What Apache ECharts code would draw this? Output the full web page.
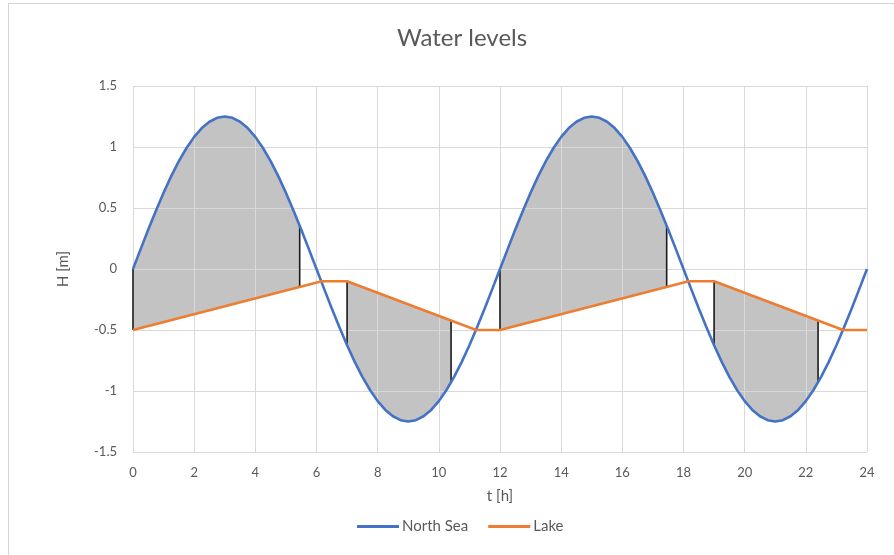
<!DOCTYPE html>
<html>
<head>
<meta charset="utf-8">
<script src="https://cdn.jsdelivr.net/npm/echarts@6/dist/echarts.min.js"></script>
<style>
html,body{margin:0;padding:0;background:#fff;}
#chart{width:894px;height:555px;}
</style>
</head>
<body>
<div id="chart"></div>
<script>
// North Sea water level, sampled every 0.25 h
const seaT = [0,0.25,0.5,0.75,1,1.25,1.5,1.75,2,2.25,2.5,2.75,3,3.25,3.5,3.75,4,4.25,4.5,4.75,5,5.25,5.5,5.75,
  6,6.25,6.5,6.75,7,7.25,7.5,7.75,8,8.25,8.5,8.75,9,9.25,9.5,9.75,10,10.25,10.5,10.75,11,11.25,11.5,11.75,
  12,12.25,12.5,12.75,13,13.25,13.5,13.75,14,14.25,14.5,14.75,15,15.25,15.5,15.75,16,16.25,16.5,16.75,17,17.25,17.5,17.75,
  18,18.25,18.5,18.75,19,19.25,19.5,19.75,20,20.25,20.5,20.75,21,21.25,21.5,21.75,22,22.25,22.5,22.75,23,23.25,23.5,23.75,24];
const seaH = [0,0.163,0.324,0.478,0.625,0.761,0.884,0.992,1.083,1.155,1.207,1.239,1.25,1.239,1.207,1.155,1.083,0.992,0.884,0.761,0.625,0.478,0.324,0.163,
  0,-0.163,-0.324,-0.478,-0.625,-0.761,-0.884,-0.992,-1.083,-1.155,-1.207,-1.239,-1.25,-1.239,-1.207,-1.155,-1.083,-0.992,-0.884,-0.761,-0.625,-0.478,-0.324,-0.163,
  0,0.163,0.324,0.478,0.625,0.761,0.884,0.992,1.083,1.155,1.207,1.239,1.25,1.239,1.207,1.155,1.083,0.992,0.884,0.761,0.625,0.478,0.324,0.163,
  0,-0.163,-0.324,-0.478,-0.625,-0.761,-0.884,-0.992,-1.083,-1.155,-1.207,-1.239,-1.25,-1.239,-1.207,-1.155,-1.083,-0.992,-0.884,-0.761,-0.625,-0.478,-0.324,-0.163,0];
// Lake water level (break points)
const lakeT = [0,6.17,7,11.22,12,18.17,19,23.22,24];
const lakeH = [-0.5,-0.1,-0.1,-0.5,-0.5,-0.1,-0.1,-0.5,-0.5];
// Shaded intervals [start, end] in hours
const shadeFrom = [0,7,12,19];
const shadeTo = [5.45,10.4,17.45,22.4];
// Axis ticks
const xTicks = [0,2,4,6,8,10,12,14,16,18,20,22,24];
const yTicks = [-1.5,-1,-0.5,0,0.5,1,1.5];

const FONT = 'Lato, "Open Sans", sans-serif';
const TXT = '#595959';

function lin(ts, hs, t) {
  for (let i = 0; i < ts.length - 1; i++) {
    if (t >= ts[i] && t <= ts[i + 1]) {
      const f = (t - ts[i]) / (ts[i + 1] - ts[i] || 1);
      return hs[i] + f * (hs[i + 1] - hs[i]);
    }
  }
  return hs[hs.length - 1];
}

const chart = echarts.init(document.getElementById('chart'), null, {renderer: 'canvas'});
const option = {
  backgroundColor: '#fff',
  animation: false,
  textStyle: {fontFamily: FONT},
  title: {
    text: 'Water levels', left: 457, top: 21, textAlign: 'center',
    textStyle: {fontFamily: FONT, fontSize: 24, fontWeight: 'normal', color: TXT}
  },
  graphic: [
    {type: 'line', shape: {x1: 8.5, y1: 3, x2: 8.5, y2: 555}, style: {stroke: '#d4d4d4', lineWidth: 1}, silent: true},
    {type: 'line', shape: {x1: 8, y1: 3.5, x2: 894, y2: 3.5}, style: {stroke: '#d4d4d4', lineWidth: 1}, silent: true}
  ],
  legend: {
    data: ['North Sea', 'Lake'], left: 352, top: 514,
    icon: 'rect', itemWidth: 42, itemHeight: 3, itemGap: 20,
    textStyle: {fontFamily: FONT, fontSize: 15, color: TXT, padding: [0, 0, 0, -2]}
  },
  grid: {left: 133, right: 27, top: 86, bottom: 103},
  xAxis: {
    type: 'value', min: xTicks[0], max: xTicks[xTicks.length - 1], interval: 2, z: 1,
    name: 't [h]', nameLocation: 'middle', nameGap: 37,
    nameTextStyle: {fontFamily: FONT, fontSize: 15, color: TXT},
    axisLine: {show: true, lineStyle: {color: '#d9d9d9', width: 1}},
    axisTick: {show: false},
    axisLabel: {fontFamily: FONT, fontSize: 13, color: TXT, margin: 14},
    splitLine: {show: true, lineStyle: {color: '#d9d9d9', width: 1}}
  },
  yAxis: {
    type: 'value', min: yTicks[0], max: yTicks[yTicks.length - 1], interval: 0.5, z: 1,
    name: 'H [m]', nameLocation: 'middle', nameGap: 62, nameRotate: 90,
    nameTextStyle: {fontFamily: FONT, fontSize: 15, color: TXT},
    axisLine: {show: false},
    axisTick: {show: false},
    axisLabel: {fontFamily: FONT, fontSize: 13, color: TXT, margin: 16},
    splitLine: {show: true, lineStyle: {color: '#d9d9d9', width: 1}}
  },
  series: [
    {
      name: 'shade', type: 'custom', z: 0, silent: true,
      encode: {x: [0, 1]},
      data: shadeFrom.map((a, i) => [a, shadeTo[i]]),
      renderItem: function (params, api) {
        const t0 = api.value(0), t1 = api.value(1);
        const pts = [];
        pts.push(api.coord([t0, lin(seaT, seaH, t0)]));
        for (let i = 0; i < seaT.length; i++) {
          if (seaT[i] > t0 && seaT[i] < t1) pts.push(api.coord([seaT[i], seaH[i]]));
        }
        pts.push(api.coord([t1, lin(seaT, seaH, t1)]));
        pts.push(api.coord([t1, lin(lakeT, lakeH, t1)]));
        for (let i = lakeT.length - 1; i >= 0; i--) {
          if (lakeT[i] > t0 && lakeT[i] < t1) pts.push(api.coord([lakeT[i], lakeH[i]]));
        }
        pts.push(api.coord([t0, lin(lakeT, lakeH, t0)]));
        return {type: 'polygon', shape: {points: pts}, style: {fill: '#c3c3c3', stroke: null}};
      }
    },
    {
      name: 'edges', type: 'custom', z: 2, silent: true,
      encode: {x: [0, 1]},
      data: shadeFrom.map((a, i) => [a, shadeTo[i]]),
      renderItem: function (params, api) {
        const t0 = api.value(0), t1 = api.value(1);
        const a1 = api.coord([t0, lin(seaT, seaH, t0)]);
        const a2 = api.coord([t0, lin(lakeT, lakeH, t0)]);
        const b1 = api.coord([t1, lin(seaT, seaH, t1)]);
        const b2 = api.coord([t1, lin(lakeT, lakeH, t1)]);
        return {
          type: 'group',
          children: [
            {type: 'line', shape: {x1: a1[0], y1: a1[1], x2: a2[0], y2: a2[1]}, style: {stroke: '#1a1a1a', lineWidth: 1.6}},
            {type: 'line', shape: {x1: b1[0], y1: b1[1], x2: b2[0], y2: b2[1]}, style: {stroke: '#1a1a1a', lineWidth: 1.6}}
          ]
        };
      }
    },
    {
      name: 'North Sea', type: 'line', z: 3, showSymbol: false, symbol: 'none',
      data: seaT.map((t, i) => [t, seaH[i]]),
      lineStyle: {color: '#4472C4', width: 2.6},
      itemStyle: {color: '#4472C4'}
    },
    {
      name: 'Lake', type: 'line', z: 3, showSymbol: false, symbol: 'none',
      data: lakeT.map((t, i) => [t, lakeH[i]]),
      lineStyle: {color: '#ED7D31', width: 2.6},
      itemStyle: {color: '#ED7D31'}
    }
  ]
};
chart.setOption(option);
</script>
</body>
</html>
